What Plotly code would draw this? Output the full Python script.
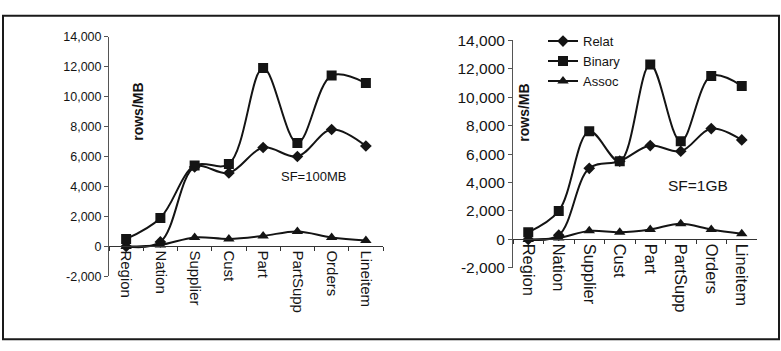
import plotly.graph_objects as go

# ---------------- data ----------------
categories = ["Region", "Nation", "Supplier", "Cust", "Part", "PartSupp", "Orders", "Lineitem"]

# SF = 100MB (left panel)
relat_100mb = [0, 300, 5300, 4900, 6600, 6000, 7800, 6700]
binary_100mb = [500, 1900, 5400, 5500, 11900, 6900, 11400, 10900]
assoc_100mb = [0, 100, 600, 500, 700, 1000, 600, 400]

# SF = 1GB (right panel)
relat_1gb = [0, 300, 5000, 5500, 6600, 6200, 7800, 7000]
binary_1gb = [500, 2000, 7600, 5500, 12300, 6900, 11500, 10800]
assoc_1gb = [0, 100, 600, 500, 700, 1100, 700, 400]

y_tick_values = [-2000, 0, 2000, 4000, 6000, 8000, 10000, 12000, 14000]
y_tick_labels = ["-2,000", "0", "2,000", "4,000", "6,000", "8,000", "10,000", "12,000", "14,000"]
y_range = [-2000, 14000]

series_names = ["Relat", "Binary", "Assoc"]
series_symbols = ["diamond", "square", "triangle-up"]
series_sizes = [9, 10, 10]

# ---------------- layout geometry ----------------
W, H = 781, 351
FONT = "Liberation Sans, Arial, sans-serif"
INK = "#141414"


def px_x(x):
    return x / W


def px_y(y):
    return (H - y) / H


left_xdom = [px_x(109), px_x(383)]
left_ydom = [px_y(281), px_y(29)]
right_xdom = [px_x(513), px_x(757)]
right_ydom = [px_y(272), px_y(33)]


def zero_pos(ydom):
    return ydom[0] + (0 - y_range[0]) / (y_range[1] - y_range[0]) * (ydom[1] - ydom[0])


fig = go.Figure()

panels = [
    ("x", "y", [relat_100mb, binary_100mb, assoc_100mb], False),
    ("x2", "y2", [relat_1gb, binary_1gb, assoc_1gb], True),
]

for xa, ya, data, show in panels:
    for name, sym, size, vals in zip(series_names, series_symbols, series_sizes, data):
        fig.add_trace(go.Scatter(
            x=categories, y=vals, name=name, xaxis=xa, yaxis=ya,
            mode="lines+markers",
            line=dict(color=INK, width=2, shape="spline", smoothing=1.0),
            marker=dict(symbol=sym, size=size, color=INK, line=dict(width=0)),
            showlegend=show, legendgroup=name,
        ))

common_x = dict(
    type="category", range=[-0.5, len(categories) - 0.5],
    showline=True, linecolor="#333", linewidth=1,
    ticks="outside", ticklen=4, tickcolor="#333", tickson="boundaries",
    tickangle=90, showgrid=False, zeroline=False,
    anchor="free",
)
common_y = dict(
    range=y_range, tickvals=y_tick_values, ticktext=y_tick_labels,
    showline=True, linecolor="#555", linewidth=1,
    ticks="outside", ticklen=4, tickcolor="#555",
    showgrid=False, zeroline=False,
)

fig.update_layout(
    width=W, height=H, autosize=False,
    margin=dict(l=0, r=0, t=0, b=0),
    paper_bgcolor="white", plot_bgcolor="rgba(0,0,0,0)",
    font=dict(family=FONT, color=INK),
    xaxis=dict(common_x, domain=left_xdom, position=zero_pos(left_ydom),
               tickfont=dict(size=15, family=FONT, color=INK)),
    yaxis=dict(common_y, domain=left_ydom, anchor="x",
               tickfont=dict(size=12.5, family=FONT, color=INK)),
    xaxis2=dict(common_x, domain=right_xdom, position=zero_pos(right_ydom),
                tickfont=dict(size=16.5, family=FONT, color=INK)),
    yaxis2=dict(common_y, domain=right_ydom, anchor="x2",
                tickfont=dict(size=15.5, family=FONT, color=INK)),
    legend=dict(
        x=px_x(543), y=px_y(18), xanchor="left", yanchor="top",
        bgcolor="rgba(0,0,0,0)", borderwidth=0,
        font=dict(size=13, family=FONT, color=INK),
        tracegroupgap=1, traceorder="normal",
    ),
    showlegend=True,
)

# y-axis titles placed inside the plot area, as in the reference
fig.add_annotation(text="<b>rows/MB</b>", x=px_x(138), y=px_y(108), xref="paper", yref="paper",
                   xanchor="center", yanchor="middle",
                   textangle=-90, showarrow=False, font=dict(size=14, family=FONT, color=INK))
fig.add_annotation(text="<b>rows/MB</b>", x=px_x(524), y=px_y(109), xref="paper", yref="paper",
                   xanchor="center", yanchor="middle",
                   textangle=-90, showarrow=False, font=dict(size=14, family=FONT, color=INK))

# scale-factor labels
fig.add_annotation(text="SF=100MB", x=px_x(313), y=px_y(176), xref="paper", yref="paper",
                   xanchor="center", yanchor="middle",
                   showarrow=False, font=dict(size=13, family=FONT, color=INK))
fig.add_annotation(text="SF=1GB", x=px_x(698), y=px_y(185), xref="paper", yref="paper",
                   xanchor="center", yanchor="middle",
                   showarrow=False, font=dict(size=15.5, family=FONT, color=INK))

# outer frame
fig.add_shape(type="rect", xref="paper", yref="paper",
              x0=px_x(3), x1=px_x(779), y0=px_y(347), y1=px_y(7),
              line=dict(color="#1a1a1a", width=2), fillcolor="rgba(0,0,0,0)")

# remove the browser's default page margin so the figure fills the window exactly
fig.write_html("out.html", config={"displayModeBar": False},
               post_script="document.body.style.margin='0';")
